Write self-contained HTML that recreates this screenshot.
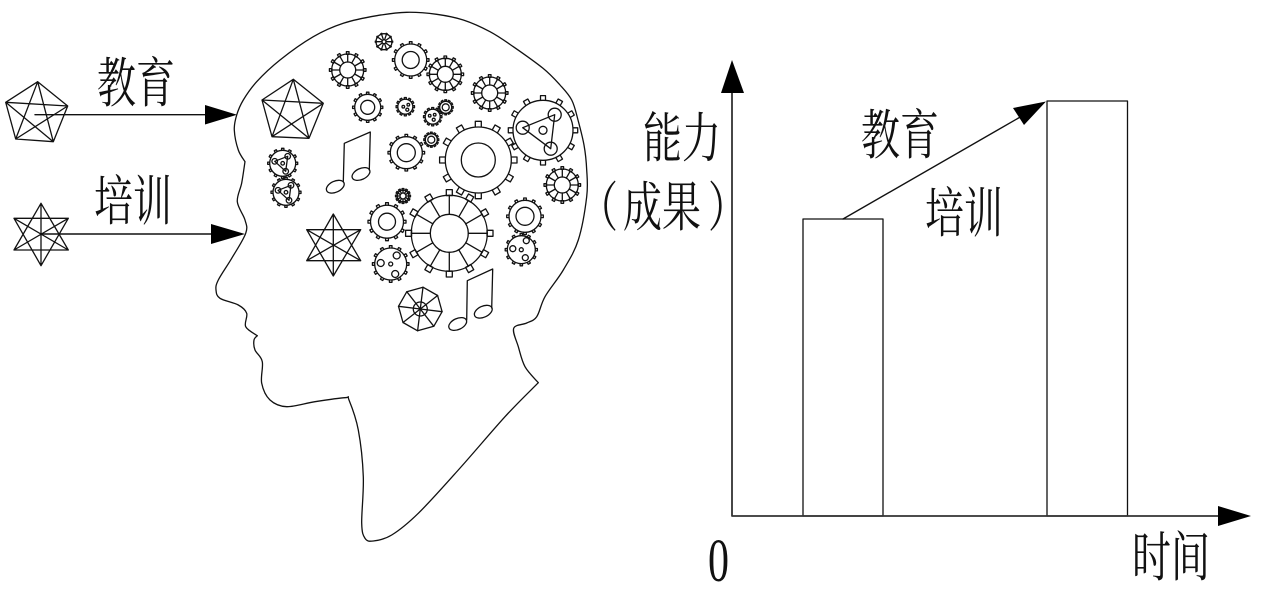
<!DOCTYPE html>
<html><head><meta charset="utf-8">
<style>
html,body{margin:0;padding:0;background:#fff;width:1264px;height:600px;overflow:hidden}
svg{display:block}
text{font-family:"Liberation Serif","Noto Serif CJK SC",serif;fill:#111}
</style></head><body>
<svg id="s" xmlns="http://www.w3.org/2000/svg" width="1264" height="600" viewBox="0 0 1264 600">
<rect width="1264" height="600" fill="#fff"/>
<g fill="none" stroke="#111" stroke-width="1.3" stroke-linejoin="round" stroke-linecap="round">
<path id="head"/>
<!-- left pentagon -->
<path d="M37.7 81.7L67.7 106L53.3 141.7L15.7 139L5.7 102.3ZM37.7 81.7L53.3 141.7L5.7 102.3L67.7 106L15.7 139Z"/>
<!-- left star -->
<path d="M41 203.3L68.3 250L14 250ZM41 265.7L14 218.3L68.3 218.3ZM41 203.3V265.7M14 218.3L68.3 250M14 250L68.3 218.3"/>
<!-- head pentagon -->
<path d="M293.3 79.3L323.3 103.3L309 138.3L272 136.7L262 100ZM293.3 79.3L309 138.3L262 100L323.3 103.3L272 136.7Z"/>
<!-- head star -->
<path d="M333.3 214L360.7 260.7L306.7 260.7ZM333.3 276L306.7 229.7L360.7 229.7ZM333.3 214V276M306.7 229.7L360.7 260.7M306.7 260.7L360.7 229.7"/>
<!-- notes -->
<path d="M343.3 181.7L344.3 143.3L370.3 132L369.3 170M466.7 320L467.3 280.7L492.7 269L491.7 308"/>
<ellipse cx="335.3" cy="186.7" rx="9.5" ry="5.5" transform="rotate(-25 335.3 186.7)"/>
<ellipse cx="361" cy="174" rx="9.5" ry="5.5" transform="rotate(-25 361 174)"/>
<ellipse cx="457.7" cy="324" rx="9.5" ry="5.5" transform="rotate(-25 457.7 324)"/>
<ellipse cx="483.3" cy="311.7" rx="9.5" ry="5.5" transform="rotate(-25 483.3 311.7)"/>
<g id="gears"></g>
<!-- chart -->
<rect x="803" y="219" width="80" height="297" stroke-width="1.3"/>
<rect x="1047" y="101" width="80.500" height="415" stroke-width="1.3"/>
<path d="M732 90V516H1220" stroke-width="1.8" stroke="#333" stroke-linecap="butt"/>
<path d="M843 219L1022 116" stroke-width="1.4"/>
<path d="M35 114.700H206M41 234H212" stroke-width="1.4"/>
</g>
<g fill="#000">
<path d="M205 105L237 114.700L205 124.500Z"/>
<path d="M211 224L245 234L211 244Z"/>
<path d="M732 60L721 93L744 93Z"/>
<path d="M1251 516L1218 506L1218 526Z"/>
<path d="M1046 101.500L1013 108L1024 125Z"/>
</g>
<g font-size="39">
<text transform="translate(97,102) scale(1,1.38)">教育</text>
<text transform="translate(94,220) scale(1,1.38)">培训</text>
<text transform="translate(643,157) scale(1,1.38)">能力</text>
<text transform="translate(579,226) scale(1,1.38)">（</text>
<text transform="translate(623,226) scale(1,1.38)">成果</text>
<text transform="translate(708,226) scale(1,1.38)">）</text>
<text transform="translate(861,154) scale(1,1.38)">教育</text>
<text transform="translate(925,232) scale(1,1.38)">培训</text>
<text transform="translate(1132,576) scale(1,1.38)">时间</text>
<text transform="translate(708,581) scale(1,1.46)" font-size="42">0</text>
</g>
</svg>
<script>
function spline(p){
  var d='M'+p[0][0]+' '+p[0][1];
  for(var i=0;i<p.length-1;i++){
    var a=p[i-1]||p[i],b=p[i],c2=p[i+1],e=p[i+2]||c2;
    d+='C'+(b[0]+(c2[0]-a[0])/6).toFixed(1)+' '+(b[1]+(c2[1]-a[1])/6).toFixed(1)+' '+(c2[0]-(e[0]-b[0])/6).toFixed(1)+' '+(c2[1]-(e[1]-b[1])/6).toFixed(1)+' '+c2[0]+' '+c2[1];
  }
  return d;
}
var segs=[
 [[245,161.700],[238.300,150],[234.300,130],[236.700,115],[243.300,100],[256.700,81.700],[280,60],[313.300,36.700],[343.300,23.300],[376.700,15.700],[406.700,12.300],[436.700,14.300],[463.300,20],[490,31.700],[513.300,46.700],[543,68.300],[560,85],[571.700,100],[578,120],[584,145],[586.700,170],[586.700,196.700],[578.300,240],[563.300,270],[545,296.700],[536.700,316.700],[526.700,323],[513.700,328.300],[518.300,346.700],[525,366.700],[538.300,382.700]],
 [[538.300,382.700],[505,416.700],[458.300,470],[418.300,513.300],[391.700,535],[373.300,541],[365,538.300],[361.700,523.300],[363.300,476.700],[358.300,430],[349,400],[345,397.700],[315,401.700],[286.700,406.700],[270,400],[261.700,383.300],[262.300,361.700],[255,350],[254,340],[257.300,335.700]],
 [[257.300,335.700],[245.700,326.700],[246.700,313.300],[238.300,305],[220,298.300],[216,290],[218.300,280],[231.700,258.300],[245.700,233.300],[245,220],[237.300,201.700],[241.700,183],[245,161.700]]
];
document.getElementById('head').setAttribute('d',segs.map(spline).join(''));
var g=document.getElementById('gears'),h='';
function c(x,y,r){h+='<circle cx="'+x+'" cy="'+y+'" r="'+r+'"/>';}
function gear(x,y,r,inner,n,t,spokes,off){
  off=off||0;
  for(var i=0;i<n;i++){
    var a=off+i*360/n;
    h+='<rect x="'+(x+r-0.3).toFixed(1)+'" y="'+(y-t/2).toFixed(1)+'" width="'+t+'" height="'+t+'" transform="rotate('+a+' '+x+' '+y+')" fill="#fff"/>';
    if(spokes){var b=a*Math.PI/180;h+='<line x1="'+(x+inner*Math.cos(b)).toFixed(1)+'" y1="'+(y+inner*Math.sin(b)).toFixed(1)+'" x2="'+(x+r*Math.cos(b)).toFixed(1)+'" y2="'+(y+r*Math.sin(b)).toFixed(1)+'"/>';}
  }
  h+='<circle cx="'+x+'" cy="'+y+'" r="'+r+'"'+(spokes?'':' fill="#fff"')+'/>';
  if(inner)c(x,y,inner);
}
function holes(x,y,r,t,l){
  gear(x,y,r,0,12,t,false);
  l.forEach(function(p){c(x+p[0],y+p[1],p[2]);});
}
function tri(x,y,r,t,p,rr,cr){
  gear(x,y,r,0,12,t,false);
  h+='<polygon points="'+p.map(function(q){return (x+q[0])+','+(y+q[1]);}).join(' ')+'"/>';
  p.forEach(function(q){c(x+q[0],y+q[1],rr);});
  c(x,y,cr);
}
gear(347.700,70,16,8,12,2.600,true);
gear(410.700,60,16,8.500,12,2.600,false);
gear(445.300,74.300,16,8,12,2.600,true);
gear(489.700,93,16,8,12,2.600,true);
gear(367.700,107.300,13,7,12,2.400,false);
holes(405.300,106.700,7.500,2,[[-2,0,1.300],[3,-2,1.300],[2,3,1.500]]);
holes(432.700,116.700,7.500,2,[[-3,-1,1.300],[2,-2,1.300],[1,3,1.500]]);
gear(445.700,107.300,6,3.500,12,1.800,false);
tri(543,130.300,30,5,[[11.700,-15.600],[-20.300,-2.600],[7.700,18.400]],6.500,4);
gear(406.300,152.700,16,9,12,2.600,false);
gear(431.300,139.700,6,3.500,12,1.800,false);
gear(478.300,160,33,17,12,6,false,0);
gear(562.300,185,16,8,12,2.600,true);
tri(282.700,163.300,13,2.300,[[5,-7],[-8,-2],[3,8]],2.800,1.800);
tri(286,192.300,13,2.300,[[5,-7],[-8,-2],[3,8]],2.800,1.800);
gear(403,196,6,3,12,1.800,true);
gear(449.300,233.300,38,19,12,6,true,0);
gear(387,221.700,16.500,8.500,12,2.800,false);
gear(525,216.300,16,9,12,2.600,false);
holes(521.300,249.700,14,2.400,[[-8.500,-1,3],[5,-9,3],[0,0,2],[4,8,3]]);
holes(390.700,264,16,2.600,[[-10,-1,3.500],[6,-8.500,3.500],[0,0,2],[4.500,10,3.500]]);
gear(384,41.700,8,2,10,1,true);
var o=[],i,a;
for(i=0;i<8;i++){a=(i*45+7)*Math.PI/180;o.push((420.300+22*Math.cos(a)).toFixed(1)+','+(309+22*Math.sin(a)).toFixed(1));
 h+='<line x1="420.300" y1="309" x2="'+(420.300+22*Math.cos(a)).toFixed(1)+'" y2="'+(309+22*Math.sin(a)).toFixed(1)+'"/>';}
h+='<polygon points="'+o.join(' ')+'"/>';
c(420.300,309,7);
g.innerHTML=h;
</script>
</body></html>
